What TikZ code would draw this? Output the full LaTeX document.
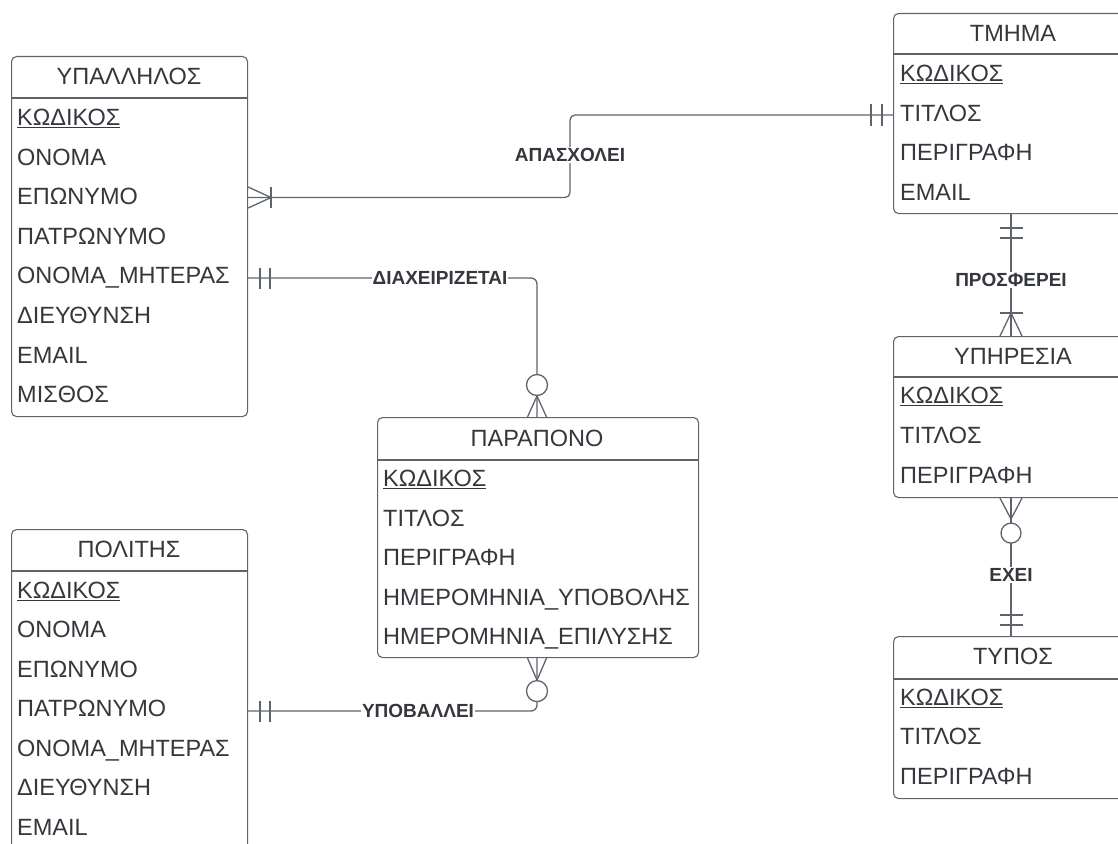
\documentclass[tikz,border=0pt]{standalone}
\usepackage{fontspec}
\setmainfont{Liberation Sans}
\usetikzlibrary{calc}
\definecolor{linec}{RGB}{95,100,108}
\definecolor{txt}{RGB}{52,55,60}
\begin{document}
\begin{tikzpicture}[x=1pt,y=-1pt,
  font=\fontsize{23.5}{27}\selectfont,
  box/.style={draw=linec, line width=1.1pt, rounded corners=5pt, fill=white, anchor=north west, inner sep=0pt},
  hdr/.style={text=txt, anchor=center, inner sep=0pt},
  attr/.style={text=txt, anchor=base west, inner sep=0pt},
  sep/.style={draw=linec, line width=1.1pt},
  conn/.style={draw=linec, line width=1.3pt},
  crow/.style={draw=linec, line width=1.3pt},
  rel/.style={text=txt, font=\bfseries\fontsize{19}{22}\selectfont, fill=white, inner sep=1pt}
]
\useasboundingbox (0,0) rectangle (1118,843);
\clip (0,0) rectangle (1118,843);

% ---------- ΥΠΑΛΛΗΛΟΣ
\node[box, minimum width=236pt, minimum height=360pt] (emp) at (11,56) {};
\node[hdr] (empH) at (129,76) {ΥΠΑΛΛΗΛΟΣ};
\draw[sep] (emp.west |- 0,98) -- (emp.east |- 0,98);
\foreach \t [count=\i] in {\underline{ΚΩΔΙΚΟΣ},ΟΝΟΜΑ,ΕΠΩΝΥΜΟ,ΠΑΤΡΩΝΥΜΟ,ΟΝΟΜΑ\_ΜΗΤΕΡΑΣ,ΔΙΕΥΘΥΝΣΗ,EMAIL,ΜΙΣΘΟΣ}
  \node[attr] (emp\i) at (17,{117+39.6*(\i-1)+8.4}) {\t};

% ---------- ΠΟΛΙΤΗΣ
\node[box, minimum width=236pt, minimum height=380pt] (cit) at (11,529) {};
\node[hdr] (citH) at (129,549) {ΠΟΛΙΤΗΣ};
\draw[sep] (cit.west |- 0,571) -- (cit.east |- 0,571);
\foreach \t [count=\i] in {\underline{ΚΩΔΙΚΟΣ},ΟΝΟΜΑ,ΕΠΩΝΥΜΟ,ΠΑΤΡΩΝΥΜΟ,ΟΝΟΜΑ\_ΜΗΤΕΡΑΣ,ΔΙΕΥΘΥΝΣΗ,EMAIL}
  \node[attr] (cit\i) at (17,{590+39.5*(\i-1)+8.4}) {\t};

% ---------- ΠΑΡΑΠΟΝΟ
\node[box, minimum width=321pt, minimum height=240pt] (comp) at (377,417) {};
\node[hdr] (compH) at (537,438) {ΠΑΡΑΠΟΝΟ};
\draw[sep] (comp.west |- 0,460) -- (comp.east |- 0,460);
\foreach \t [count=\i] in {\underline{ΚΩΔΙΚΟΣ},ΤΙΤΛΟΣ,ΠΕΡΙΓΡΑΦΗ,ΗΜΕΡΟΜΗΝΙΑ\_ΥΠΟΒΟΛΗΣ,ΗΜΕΡΟΜΗΝΙΑ\_ΕΠΙΛΥΣΗΣ}
  \node[attr] (comp\i) at (383,{478+39.6*(\i-1)+8.4}) {\t};

% ---------- ΤΜΗΜΑ
\node[box, minimum width=240pt, minimum height=200pt] (dept) at (893,13) {};
\node[hdr] (deptH) at (1013,33) {ΤΜΗΜΑ};
\draw[sep] (dept.west |- 0,54) -- (dept.east |- 0,54);
\foreach \t [count=\i] in {\underline{ΚΩΔΙΚΟΣ},ΤΙΤΛΟΣ,ΠΕΡΙΓΡΑΦΗ,EMAIL}
  \node[attr] (dept\i) at (900,{73+39.7*(\i-1)+8.4}) {\t};

% ---------- ΥΠΗΡΕΣΙΑ
\node[box, minimum width=240pt, minimum height=161pt] (serv) at (893,336) {};
\node[hdr] (servH) at (1013,356) {ΥΠΗΡΕΣΙΑ};
\draw[sep] (serv.west |- 0,377) -- (serv.east |- 0,377);
\foreach \t [count=\i] in {\underline{ΚΩΔΙΚΟΣ},ΤΙΤΛΟΣ,ΠΕΡΙΓΡΑΦΗ}
  \node[attr] (serv\i) at (900,{395+40*(\i-1)+8.4}) {\t};

% ---------- ΤΥΠΟΣ
\node[box, minimum width=240pt, minimum height=162pt] (type) at (893,636) {};
\node[hdr] (typeH) at (1013,656) {ΤΥΠΟΣ};
\draw[sep] (type.west |- 0,679) -- (type.east |- 0,679);
\foreach \t [count=\i] in {\underline{ΚΩΔΙΚΟΣ},ΤΙΤΛΟΣ,ΠΕΡΙΓΡΑΦΗ}
  \node[attr] (type\i) at (900,{697+39.5*(\i-1)+8.4}) {\t};

% ========== ΑΠΑΣΧΟΛΕΙ
\coordinate (a1) at (emp.east |- 0,197.5);
\coordinate (a2) at (dept.west |- 0,115);
\draw[conn, rounded corners=5pt] (a1) -- (570,197.5) -- (570,115) -- (a2);
\node[rel] (lab1) at (570,155) {ΑΠΑΣΧΟΛΕΙ};
\draw[crow] ($(a1)+(0,-10.5)$) -- ($(a1)+(23,0)$) -- ($(a1)+(0,10.5)$);
\draw[crow] ($(a1)+(23,-10.5)$) -- ($(a1)+(23,10.5)$);
\draw[crow] ($(a2)+(-22,-11)$) -- ($(a2)+(-22,11)$);
\draw[crow] ($(a2)+(-11,-11)$) -- ($(a2)+(-11,11)$);

% ========== ΔΙΑΧΕΙΡΙΖΕΤΑΙ
\coordinate (b1) at (emp.east |- 0,278);
\coordinate (b2) at (comp.north -| 537,0);
\draw[conn, rounded corners=6pt] (b1) -- (537,278) -- (b2);
\node[rel] (lab2) at (440,278) {ΔΙΑΧΕΙΡΙΖΕΤΑΙ};
\draw[crow] ($(b1)+(12,-10.5)$) -- ($(b1)+(12,10.5)$);
\draw[crow] ($(b1)+(22,-10.5)$) -- ($(b1)+(22,10.5)$);
\draw[crow, fill=white] ($(b2)+(0,-32)$) circle[radius=10.5];
\draw[crow] ($(b2)+(-9.5,0)$) -- ($(b2)+(0,-21)$) -- ($(b2)+(9.5,0)$);

% ========== ΥΠΟΒΑΛΛΕΙ
\coordinate (c1) at (cit.east |- 0,711);
\coordinate (c2) at (comp.south -| 537,0);
\draw[conn, rounded corners=6pt] (c1) -- (537,711) -- (c2);
\node[rel] (lab3) at (418,711) {ΥΠΟΒΑΛΛΕΙ};
\draw[crow] ($(c1)+(12,-10.5)$) -- ($(c1)+(12,10.5)$);
\draw[crow] ($(c1)+(22,-10.5)$) -- ($(c1)+(22,10.5)$);
\draw[crow, fill=white] ($(c2)+(0,33)$) circle[radius=10.5];
\draw[crow] ($(c2)+(-9.5,0)$) -- ($(c2)+(0,22)$) -- ($(c2)+(9.5,0)$);

% ========== ΠΡΟΣΦΕΡΕΙ
\coordinate (d1) at (dept.south -| 1011,0);
\coordinate (d2) at (serv.north -| 1011,0);
\draw[conn] (d1) -- (d2);
\node[rel] (lab4) at (1011,280) {ΠΡΟΣΦΕΡΕΙ};
\draw[crow] ($(d1)+(-11.5,14)$) -- ($(d1)+(11.5,14)$);
\draw[crow] ($(d1)+(-11.5,24)$) -- ($(d1)+(11.5,24)$);
\draw[crow] ($(d2)+(-11.5,-23)$) -- ($(d2)+(11.5,-23)$);
\draw[crow] ($(d2)+(-11,0)$) -- ($(d2)+(0,-23)$) -- ($(d2)+(11,0)$);

% ========== ΕΧΕΙ
\coordinate (e1) at (serv.south -| 1011,0);
\coordinate (e2) at (type.north -| 1011,0);
\draw[conn] (e1) -- (e2);
\node[rel] (lab5) at (1011,575) {ΕΧΕΙ};
\draw[crow] ($(e1)+(-11,0)$) -- ($(e1)+(0,21)$) -- ($(e1)+(11,0)$);
\draw[crow, fill=white] ($(e1)+(0,35)$) circle[radius=10];
\draw[crow] ($(e2)+(-11.5,-21)$) -- ($(e2)+(11.5,-21)$);
\draw[crow] ($(e2)+(-11.5,-11)$) -- ($(e2)+(11.5,-11)$);
\end{tikzpicture}
\end{document}
